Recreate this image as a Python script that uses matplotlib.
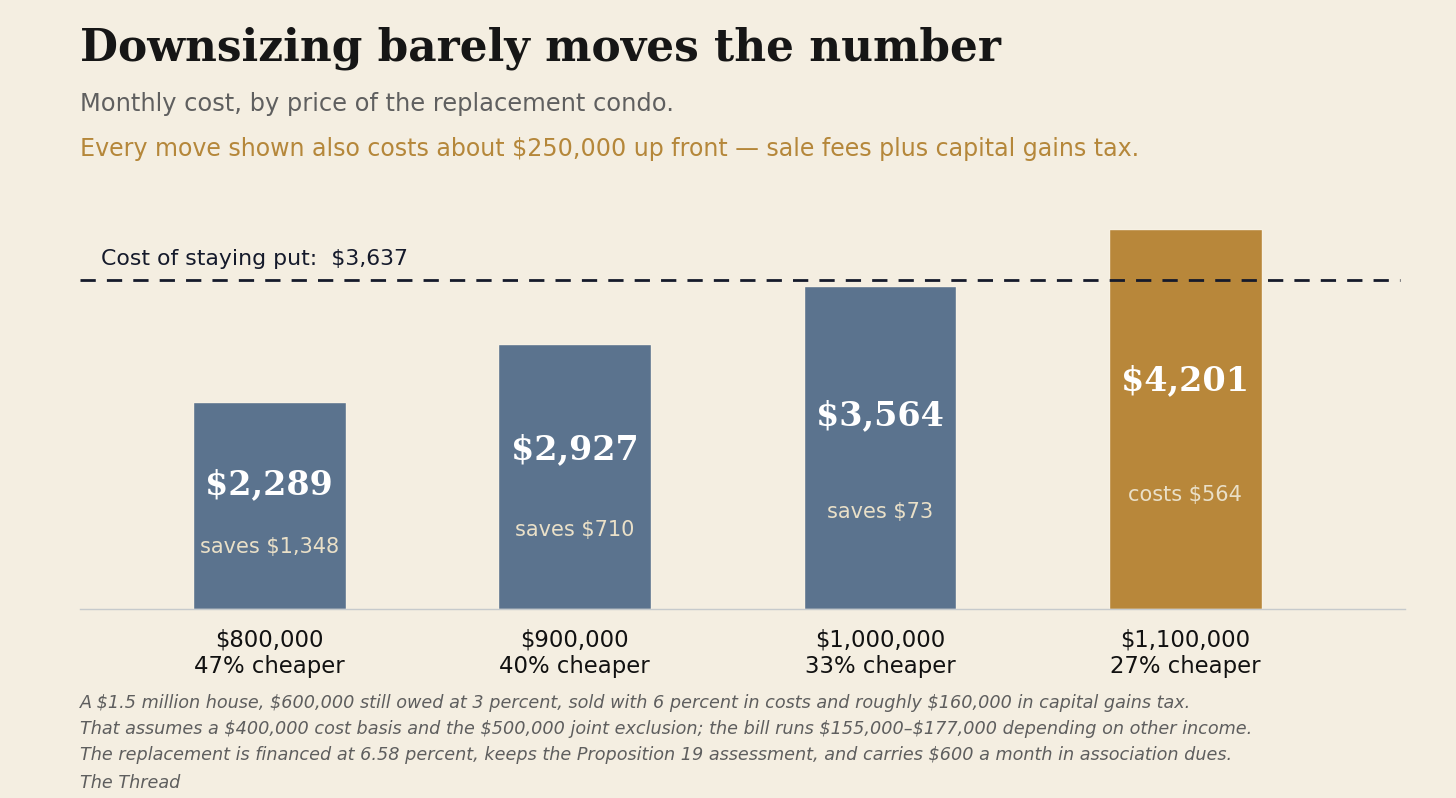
import matplotlib
matplotlib.use("Agg")
import matplotlib.pyplot as plt

plt.rcParams["text.parse_math"] = False

# data
prices = ["$800,000", "$900,000", "$1,000,000", "$1,100,000"]
cheaper = ["47% cheaper", "40% cheaper", "33% cheaper", "27% cheaper"]
monthly = [2289, 2927, 3564, 4201]
notes = ["saves $1,348", "saves $710", "saves $73", "costs $564"]
stay_put = 3637

bg = "#f4eee1"
blue = "#5b738e"
gold = "#b8873a"
navy = "#151a2b"

fig = plt.figure(figsize=(14.56, 7.98), dpi=100)
fig.patch.set_facecolor(bg)
ax = fig.add_axes([80 / 1456, 1 - 609 / 798, 1325 / 1456, 409 / 798])
ax.set_facecolor(bg)

x = list(range(len(monthly)))
colors = [gold if v > stay_put else blue for v in monthly]
ax.bar(x, monthly, width=0.5, color=colors, edgecolor="#f7f1e4", linewidth=1, zorder=2)

ax.axhline(stay_put, xmin=0, xmax=0.996, color=navy, lw=2,
           linestyle=(0, (5.5, 4)), zorder=3)
ax.text(-0.55, stay_put + 230, "Cost of staying put:  $3,637", fontsize=15.8,
        color=navy, ha="left", va="center")

for i, v in enumerate(monthly):
    ax.text(i, v * 0.6, f"${v:,}", fontsize=24, fontweight="bold", family="DejaVu Serif",
            color="white", ha="center", va="center", zorder=4)
    ax.text(i, v * 0.3, notes[i], fontsize=15, color="#eae0c8",
            ha="center", va="center", zorder=4)

ax.set_xlim(-0.62, 3.72)
ax.set_ylim(0, 4519)
ax.set_xticks(x)
ax.set_xticklabels([p + "\n" + c for p, c in zip(prices, cheaper)], fontsize=16.4,
                   color="#111111", linespacing=1.2)
ax.tick_params(axis="x", length=0, pad=14)
ax.set_yticks([])
for s in ["top", "right", "left"]:
    ax.spines[s].set_visible(False)
ax.spines["bottom"].set_color("#c6cacc")
ax.spines["bottom"].set_linewidth(1)

fig.text(80 / 1456, 1 - 48 / 798, "Downsizing barely moves the number", fontsize=31.6,
         fontweight="bold", family="DejaVu Serif", color="#161616", va="center")
fig.text(80 / 1456, 1 - 104 / 798, "Monthly cost, by price of the replacement condo.",
         fontsize=17.4, color="#5f5f5f", va="center")
fig.text(80 / 1456, 1 - 149 / 798,
         "Every move shown also costs about $250,000 up front \u2014 sale fees plus capital gains tax.",
         fontsize=17.1, color="#b5873a", va="center")

footnotes = [
    "A $1.5 million house, $600,000 still owed at 3 percent, sold with 6 percent in costs and roughly $160,000 in capital gains tax.",
    "That assumes a $400,000 cost basis and the $500,000 joint exclusion; the bill runs $155,000\u2013$177,000 depending on other income.",
    "The replacement is financed at 6.58 percent, keeps the Proposition 19 assessment, and carries $600 a month in association dues.",
]
for k, line in enumerate(footnotes):
    fig.text(80 / 1456, 1 - (703 + 26 * k) / 798, line, fontsize=12.7, style="italic",
             color="#5e5e5e", va="center")
fig.text(80 / 1456, 1 - 783 / 798, "The Thread", fontsize=12.7, style="italic",
         color="#5e5e5e", va="center")

fig.savefig("out.png", dpi=100, facecolor=bg)
